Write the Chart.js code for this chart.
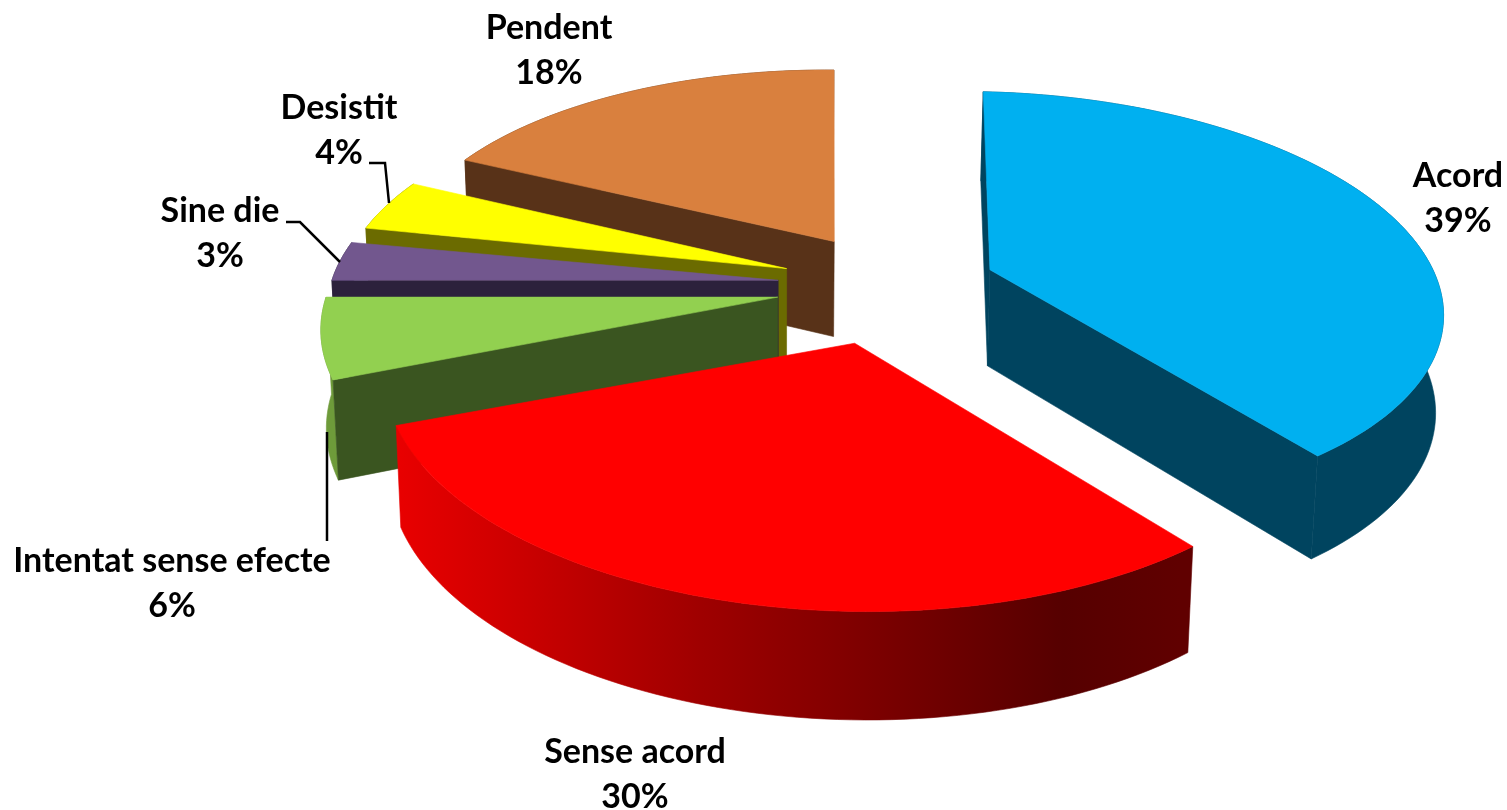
<!DOCTYPE html>
<html><head><meta charset="utf-8">
<style>html,body{margin:0;padding:0;background:#fff}canvas{display:block}</style>
<script src="https://cdn.jsdelivr.net/npm/chart.js@4"></script></head>
<body><canvas id="c" width="1507" height="810"></canvas>
<script>
const categories=["Acord","Sense acord","Intentat sense efecte","Sine die","Desistit","Pendent"];
const values=[39,30,6,3,4,18];
const topColors=["#00B0F0","#FF0000","#92D050","#72578E","#FFFF00","#D9803E"];
const sideColors=["#00445F","#B00000","#3A5520","#2C213C","#6B6B00","#583218"];
const wallColors=["#00445F",null,"#6E9B3A","#2C213C","#6B6B00","#583218"];

// exploded position of each slice, in radii of the pie plane, and small drawing turn (degrees)
const sliceShift=[[.474,-.121],[.16,.22],[-.005,.01],[-.004,-.07],[.015,-.127],[.125,-.262]];
const sliceTurn=[3,1.5,0,0,1,1];
const paintOrder=[5,0,4,3,2,1];
const labelAnchors=[[1458,176],[635,752],[172,561],[220,211],[339,108],[549,28]];
const leaders=[null,null,[[327,432],[327,541]],[[286,222],[300,222],[340,262]],[[369,163],[385,163],[389,203]],null];
const view={cx:780,cy:295,rx:451,ry:212,persp:.15,depth:97,depthPow:.55,baseShrink:.988};

function topPoint(x,y){const w=1-view.persp*y;return [view.cx+view.rx*x/w,view.cy+view.ry*y/w];}
function basePoint(x,y){const w=1-view.persp*y;return [view.cx+view.baseShrink*view.rx*x/w,view.cy+view.ry*y/w+view.depth/Math.pow(w,view.depthPow)];}

function poly(ctx,pts,fill){
  ctx.beginPath();pts.forEach((p,i)=>i?ctx.lineTo(p[0],p[1]):ctx.moveTo(p[0],p[1]));
  ctx.closePath();ctx.fillStyle=fill;ctx.strokeStyle=fill;ctx.lineWidth=.6;ctx.fill();ctx.stroke();
}
const pie3d={
  id:'pie3d',
  beforeDatasetDraw(chart,args){
    const ctx=chart.ctx,arcs=chart.getDatasetMeta(0).data;
    ctx.save();
    paintOrder.forEach(i=>{
      const a=arcs[i],s=sliceShift[i],turn=sliceTurn[i]*Math.PI/180,n=Math.max(8,Math.ceil((a.endAngle-a.startAngle)*40));
      const rim=[];
      for(let k=0;k<=n;k++){const t=turn+a.startAngle+(a.endAngle-a.startAngle)*k/n;rim.push([s[0]+Math.cos(t),s[1]+Math.sin(t)]);}
      const T=p=>topPoint(p[0],p[1]),B=p=>basePoint(p[0],p[1]);
      let wall=wallColors[i];
      if(i===1){
        wall=ctx.createLinearGradient(400,0,1180,0);
        wall.addColorStop(0,"#E80000");wall.addColorStop(.13,"#D00000");
        wall.addColorStop(.38,"#A00000");wall.addColorStop(.58,"#800000");
        wall.addColorStop(.85,"#560000");wall.addColorStop(1,"#600000");
      }
      poly(ctx,rim.map(T).concat(rim.slice().reverse().map(B)),wall);
      // only the cut faces that look towards the viewer
      if(T(rim[0])[0]<T(s)[0]) poly(ctx,[T(s),T(rim[0]),B(rim[0]),B(s)],sideColors[i]);
      if(T(rim[n])[0]>T(s)[0]) poly(ctx,[T(s),T(rim[n]),B(rim[n]),B(s)],sideColors[i]);
      poly(ctx,[T(s)].concat(rim.map(T)),a.options.backgroundColor);
    });
    ctx.restore();
    return false;
  },
  afterDatasetsDraw(chart){
    const ctx=chart.ctx;
    ctx.save();
    ctx.strokeStyle="#000";ctx.lineWidth=2.5;
    leaders.forEach(l=>{if(!l)return;ctx.beginPath();l.forEach((p,i)=>i?ctx.lineTo(p[0],p[1]):ctx.moveTo(p[0],p[1]));ctx.stroke();});
    ctx.fillStyle="#000";ctx.font='bold 34px Lato';ctx.textAlign='center';ctx.textBaseline='middle';
    categories.forEach((c,i)=>{
      const p=labelAnchors[i];
      ctx.fillText(c,p[0],p[1]);
      ctx.fillText(values[i]+"%",p[0],p[1]+45);
    });
    ctx.restore();
  }
};
new Chart(document.getElementById('c'),{
  type:'pie',
  data:{labels:categories,datasets:[{data:values,backgroundColor:topColors,borderWidth:0}]},
  options:{responsive:false,animation:false,rotation:0,
    plugins:{legend:{display:false},tooltip:{enabled:false}}},
  plugins:[pie3d]
});
</script></body></html>
